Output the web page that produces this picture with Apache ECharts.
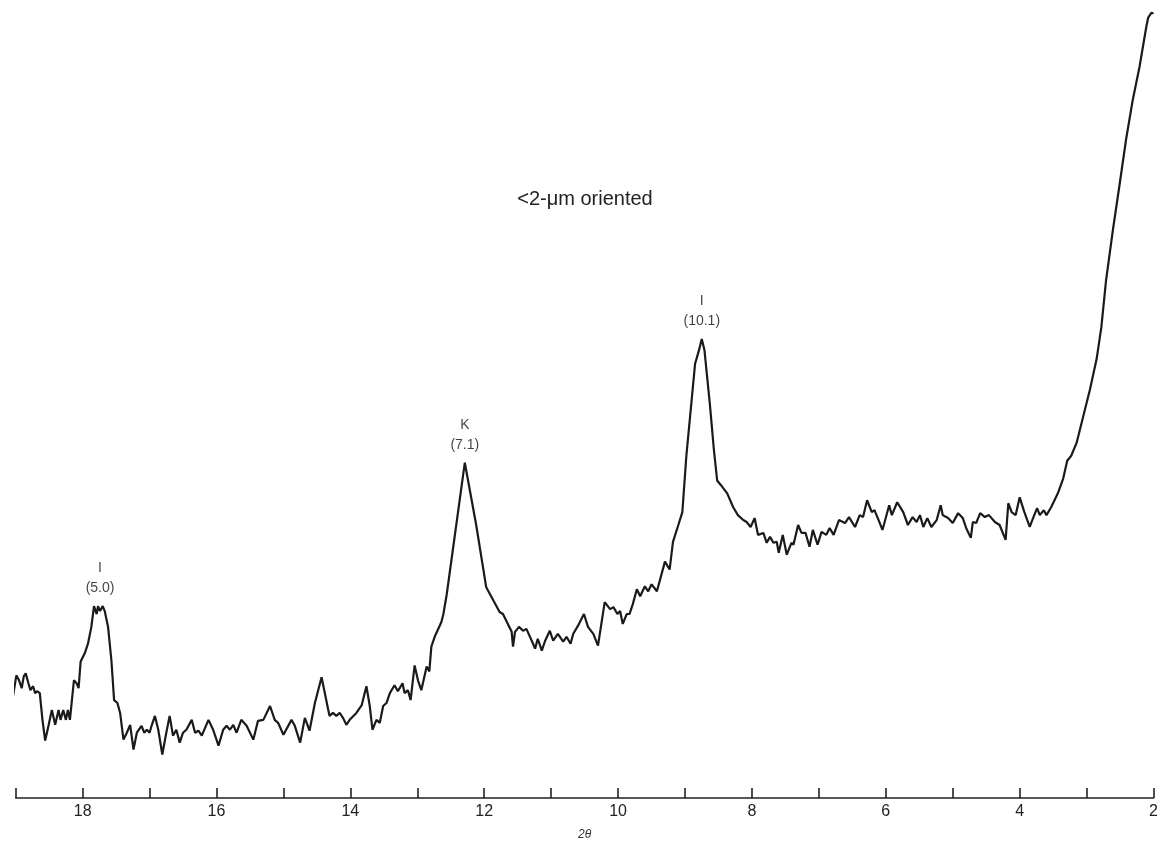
<!DOCTYPE html>
<html>
<head>
<meta charset="utf-8">
<script src="https://cdn.jsdelivr.net/npm/echarts@6/dist/echarts.min.js"></script>
<style>
html,body{margin:0;padding:0;background:#fff;}
#chart{width:1161px;height:846px;}
</style>
</head>
<body>
<div id="chart"></div>
<script>
var twoTheta = [
19.04,18.99,18.95,18.91,18.88,18.85,18.81,18.78,18.74,18.71,18.68,18.64,18.60,18.56,18.51,18.46,18.41,18.36,18.33,18.29,
18.25,18.22,18.19,18.13,18.09,18.06,18.03,17.97,17.92,17.87,17.83,17.79,17.77,17.74,17.70,17.67,17.62,17.57,17.53,17.48,
17.44,17.39,17.34,17.29,17.24,17.19,17.12,17.08,17.04,17.00,16.97,16.92,16.87,16.81,16.75,16.70,16.65,16.60,16.55,16.50,
16.45,16.37,16.32,16.27,16.22,16.12,16.05,15.97,15.90,15.85,15.80,15.75,15.70,15.63,15.55,15.45,15.38,15.30,15.20,15.13,
15.08,15.00,14.88,14.83,14.75,14.68,14.61,14.53,14.43,14.33,14.31,14.26,14.21,14.16,14.11,14.06,14.01,13.91,13.83,13.76,
13.71,13.67,13.61,13.56,13.51,13.46,13.41,13.34,13.29,13.22,13.19,13.14,13.10,13.04,12.99,12.94,12.86,12.82,12.79,12.74,
12.64,12.61,12.56,12.29,12.12,11.97,11.77,11.72,11.59,11.57,11.54,11.48,11.42,11.37,11.29,11.24,11.20,11.14,11.09,11.02,
10.97,10.90,10.82,10.77,10.71,10.67,10.60,10.51,10.45,10.37,10.30,10.20,10.12,10.07,10.01,9.97,9.93,9.87,9.83,9.78,
9.72,9.67,9.60,9.55,9.50,9.42,9.30,9.23,9.18,9.10,9.04,8.98,8.90,8.85,8.79,8.75,8.71,8.63,8.57,8.52,
8.46,8.37,8.28,8.21,8.13,8.08,8.02,7.96,7.91,7.83,7.78,7.73,7.68,7.63,7.60,7.54,7.48,7.41,7.38,7.31,
7.26,7.20,7.14,7.09,7.02,6.96,6.89,6.84,6.78,6.70,6.61,6.55,6.46,6.39,6.34,6.28,6.21,6.17,6.12,6.05,
5.95,5.91,5.83,5.74,5.67,5.60,5.54,5.49,5.44,5.38,5.32,5.24,5.18,5.15,5.07,5.00,4.92,4.85,4.80,4.73,
4.70,4.65,4.59,4.52,4.46,4.37,4.30,4.21,4.17,4.12,4.06,4.00,3.93,3.85,3.80,3.74,3.70,3.64,3.60,3.53,
3.43,3.35,3.29,3.23,3.15,3.05,2.95,2.85,2.78,2.71,2.61,2.51,2.41,2.31,2.21,2.11,2.08,2.03,2.00
];
// relative intensity (arbitrary units) at each position
var intensity = [
103,124,119,111,123,126,116,109,113,106,108,106,79,58,73,89,74,89,79,89,
79,89,79,119,116,111,138,146,156,173,194,186,194,189,194,189,173,139,99,96,
86,59,66,74,49,66,73,66,69,66,73,83,69,44,66,83,63,69,56,66,
69,79,66,68,63,79,69,53,69,73,69,74,66,79,73,59,78,79,93,79,
76,64,79,73,56,81,68,96,122,89,83,86,83,86,81,74,79,86,94,113,
93,69,79,76,93,96,106,114,108,116,106,109,99,134,119,109,133,128,153,163,
178,186,206,339,276,213,188,186,168,153,168,173,169,171,159,151,161,149,159,169,
159,166,158,163,156,166,174,186,173,166,154,198,191,193,186,189,176,186,186,196,
211,204,214,209,216,209,239,231,259,276,289,346,403,439,453,464,453,399,353,321,
316,308,294,286,281,279,274,283,266,268,258,264,258,259,248,266,246,258,256,276,
268,268,254,271,256,269,266,273,266,281,278,284,274,286,284,301,289,291,283,271,
296,286,299,289,276,284,279,286,274,283,274,281,296,286,283,278,288,283,273,263,
279,278,288,284,286,279,276,261,298,289,286,304,289,274,283,293,286,291,286,294,
308,323,341,346,359,386,413,444,476,523,573,619,666,706,739,779,789,794,793
];
// peak annotations
var peakPos = [17.74, 12.29, 8.75];
var peakVal = [194, 339, 464];
var peakText = ['I\n(5.0)', 'K\n(7.1)', 'I\n(10.1)'];
var tickLabels = [18, 16, 14, 12, 10, 8, 6, 4, 2];
var sampleTitle = '<2-\u03BCm oriented';
var axisTitle = '2\u03B8';

var FONT = "'Liberation Sans', Arial, Helvetica, sans-serif";
var lineData = twoTheta.map(function (x, i) { return [x, intensity[i]]; });
var annData = peakPos.map(function (x, i) { return { value: [x, peakVal[i]], name: peakText[i] }; });

var chart = echarts.init(document.getElementById('chart'), null, { renderer: 'canvas' });
chart.setOption({
  backgroundColor: '#ffffff',
  animation: false,
  grid: { left: 15.7, right: 7, top: 6.7, bottom: 39.3, containLabel: false },
  graphic: [{
    type: 'text', x: 585, y: 199,
    style: { text: sampleTitle, font: '20px ' + FONT, fill: '#222', textAlign: 'center', textVerticalAlign: 'middle' }
  }],
  xAxis: {
    type: 'value', min: 2, max: 19, interval: 1, inverse: true,
    name: axisTitle, nameLocation: 'middle', nameGap: 31,
    nameTextStyle: { fontFamily: FONT, fontSize: 12, color: '#333', fontStyle: 'italic' },
    axisLine: { show: true, lineStyle: { color: '#222', width: 1.6 } },
    axisTick: { show: true, inside: true, length: 10, lineStyle: { color: '#222', width: 1.6 } },
    axisLabel: {
      margin: 6, fontFamily: FONT, fontSize: 16, color: '#222',
      formatter: function (v) { return tickLabels.indexOf(v) >= 0 ? String(v) : ''; }
    },
    splitLine: { show: false }
  },
  yAxis: {
    type: 'value', min: 0, max: 800, show: false,
    splitLine: { show: false }
  },
  series: [{
    type: 'line', data: lineData, showSymbol: false, smooth: false,
    lineStyle: { color: '#1a1a1a', width: 2.2 }, z: 3
  }, {
    type: 'scatter', data: annData, symbolSize: 0,
    label: {
      show: true, position: 'top', distance: 8,
      formatter: function (p) { return p.name; },
      fontFamily: FONT, fontSize: 14, lineHeight: 20, color: '#111', align: 'center'
    },
    z: 4
  }]
});
</script>
</body>
</html>
